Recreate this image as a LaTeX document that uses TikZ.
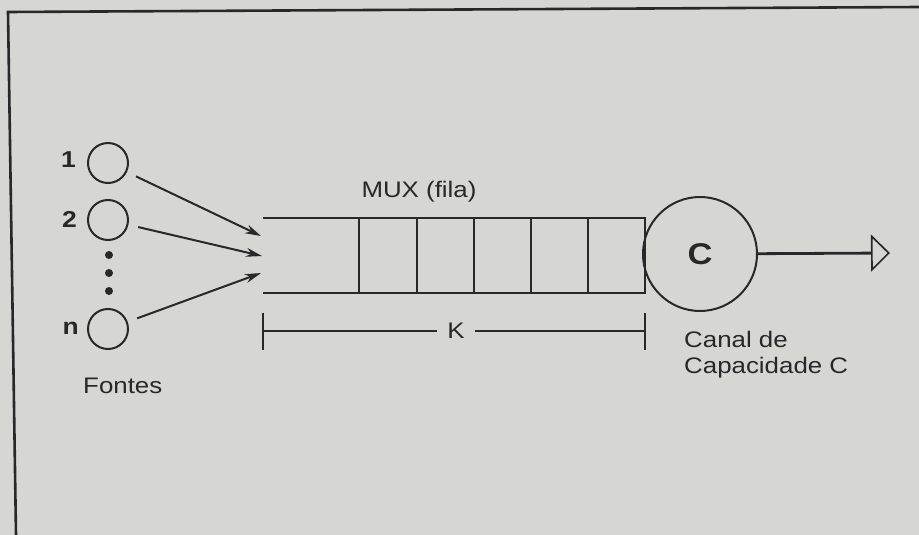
\documentclass[tikz,border=0pt]{standalone}
\usepackage{fontspec}
\setmainfont[FakeStretch=1.15]{Liberation Sans}
\usetikzlibrary{arrows.meta}
\definecolor{paper}{RGB}{214,214,211}
\definecolor{ink}{RGB}{40,40,40}
\begin{document}
\begin{tikzpicture}[x=1pt,y=-1pt,
  txt/.style={font=\fontsize{22.5}{26}\selectfont, text=ink, inner sep=0pt},
  numlbl/.style={font=\fontsize{23}{26}\selectfont\bfseries, text=ink, inner sep=0pt},
  src/.style={circle, draw=ink, line width=2pt, minimum size=40pt, inner sep=0pt},
  dotmark/.style={circle, fill=ink, minimum size=8pt, inner sep=0pt},
  feed/.style={draw=ink, line width=2pt, -{Stealth[length=16pt,width=9pt]}, shorten <=10pt},
  qline/.style={draw=ink, line width=2.2pt},
  thin/.style={draw=ink, line width=1.6pt}]
\useasboundingbox (0,0) rectangle (919,535);
\fill[paper] (0,0) rectangle (919,535);
% frame
\draw[ink, line width=2.6pt] (16,535) -- (8,12) -- (919,7);
% sources
\node[src] (s1) at (108,163) {};
\node[src] (s2) at (108,220) {};
\node[src] (sn) at (108,329) {};
\node[numlbl, anchor=base east] (l1) at (76,167) {1};
\node[numlbl, anchor=base east] (l2) at (77,227) {2};
\node[numlbl, anchor=base east] (ln) at (79,334) {n};
\node[dotmark] (d1) at (109,255) {};
\node[dotmark] (d2) at (109,273) {};
\node[dotmark] (d3) at (109,291) {};
\node[txt, anchor=base west] (fontes) at (83,393) {Fontes};
% arrow targets
\coordinate (t1) at (261,236);
\coordinate (t2) at (262,256);
\coordinate (tn) at (261,273);
\draw[feed] (s1) -- (t1);
\draw[feed] (s2) -- (t2);
\draw[feed] (sn) -- (tn);
% queue
\coordinate (qtl) at (263,218);
\coordinate (qtr) at (645,218);
\coordinate (qbl) at (263,293);
\coordinate (qbr) at (645,293);
\draw[qline] (qtl) -- (qtr) -- (qbr) -- (qbl);
\foreach \x in {359,417,474,531,588} \draw[thin] (\x,218) -- (\x,293);
\node[txt, anchor=base] (mux) at (419,197) {MUX (fila)};
% K bracket
\node[txt, inner xsep=10pt, anchor=center] (k) at (456,331) {K};
\coordinate (kl) at (263,331);
\coordinate (kr) at (645,331);
\draw[thin] (263,313) -- (263,350);
\draw[thin] (645,313) -- (645,350);
\draw[qline] (kl) -- (k.west);
\draw[qline] (k.east) -- (kr);
% channel
\node[circle, draw=ink, line width=2pt, minimum size=114pt, inner sep=0pt,
      font=\fontsize{30}{34}\selectfont\bfseries, text=ink] (ch) at (700,254) {C};
\coordinate (out) at (890,253);
\draw[ink, line width=2.8pt, -{Triangle[open, length=19pt, width=37pt, line width=1.7pt]}] (ch) -- (out);
\node[txt, anchor=base west] (can1) at (684,347) {Canal de};
\node[txt, anchor=base west] (can2) at (684,373) {Capacidade C};
\end{tikzpicture}
\end{document}
